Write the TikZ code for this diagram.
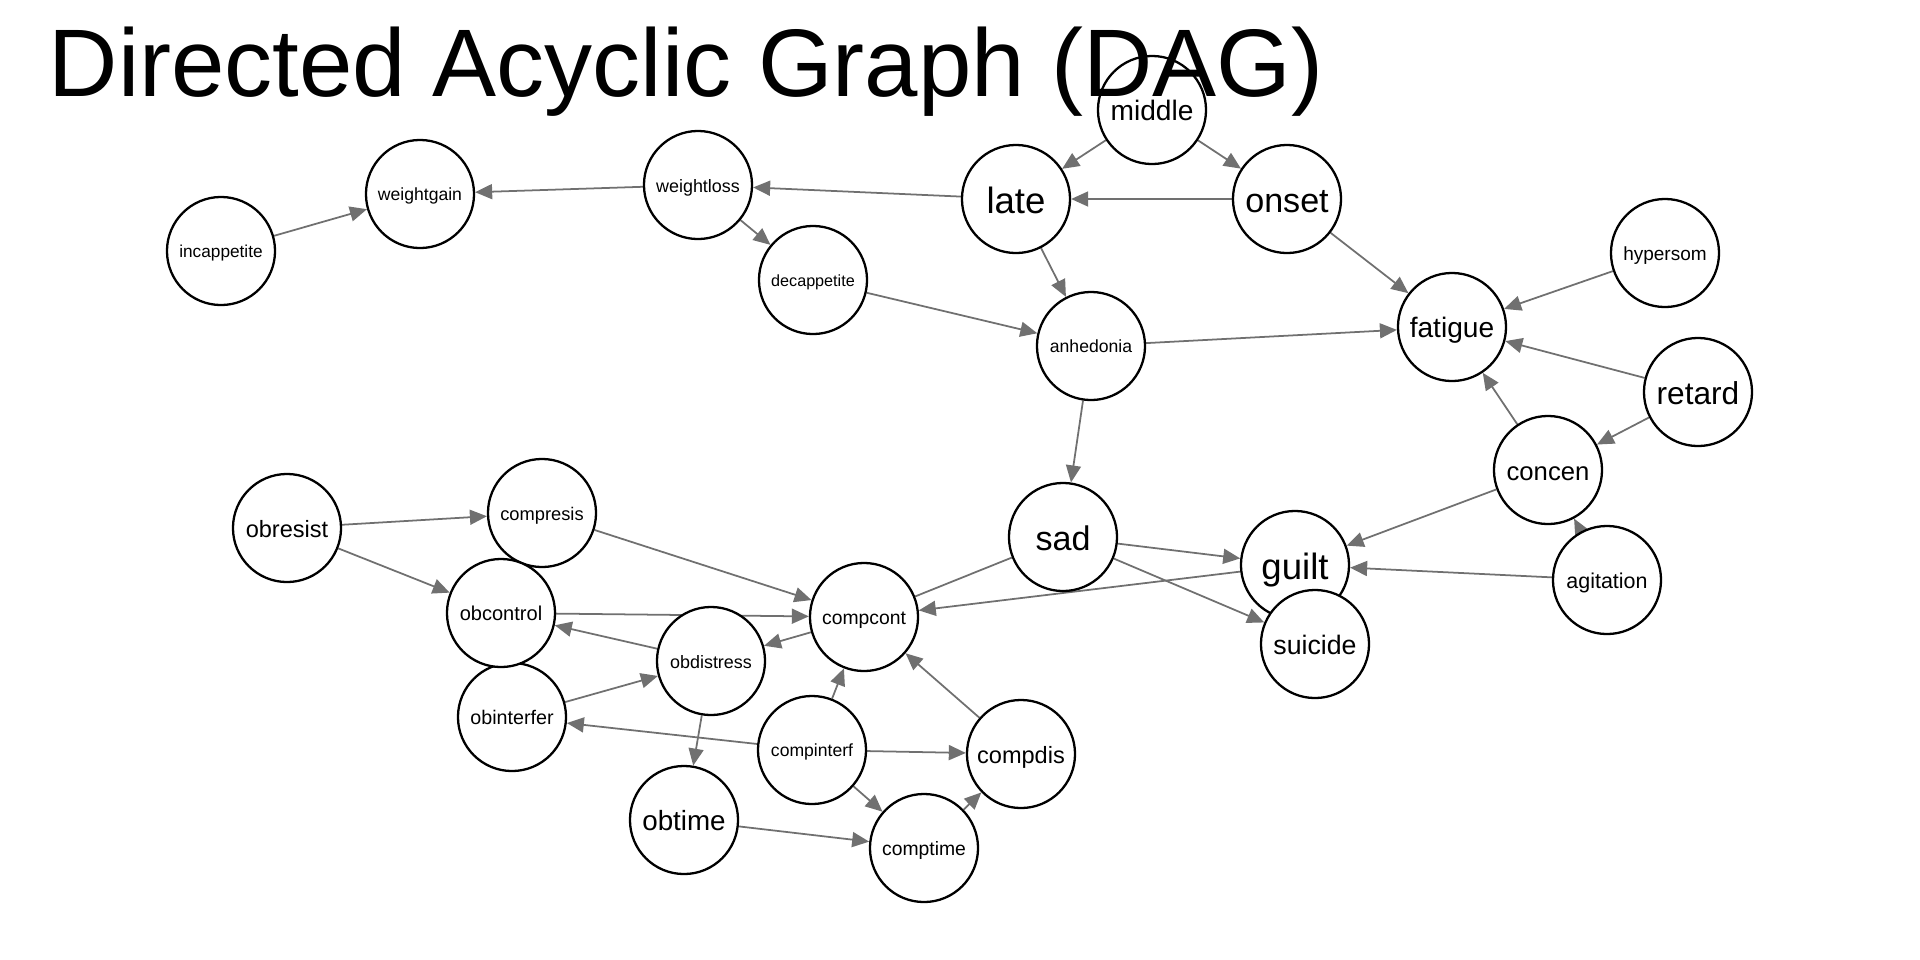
\documentclass[tikz,border=0pt]{standalone}
\usepackage{fontspec}
\setmainfont{Liberation Sans}
\usetikzlibrary{arrows.meta,backgrounds}
\definecolor{linkgray}{HTML}{707070}

\begin{document}
\begin{tikzpicture}[
    x=0.01cm,y=-0.01cm,
    >={Triangle[length=0.17cm,width=0.15cm]},
    line join=round,
    var/.style={circle,draw,fill=white,line width=0.65pt,inner sep=0pt,
        minimum size=1.08cm},
    lab/.style={font=\fontsize{#1}{#1}\selectfont,
        text height=0.78*#1pt,text depth=0pt},
    link/.style={->,draw=linkgray,line width=0.5pt}
  ]
    \useasboundingbox (0,0) rectangle (1920,960);

    % symptoms, top part
    \node [var,lab=8]    (middle)      at (1152,110) {middle};
    \node [var,lab=10.4] (late)        at (1016,199) {late};
    \node [var,lab=9.7]  (onset)       at (1287,199) {onset};
    \node [var,lab=5.1]  (weightloss)  at (698,185)  {weightloss};
    \node [var,lab=5]    (weightgain)  at (420,194)  {weightgain};
    \node [var,lab=4.9]  (incappetite) at (221,251)  {incappetite};
    \node [var,lab=4.6]  (decappetite) at (813,280)  {decappetite};
    \node [var,lab=5]    (anhedonia)   at (1091,346) {anhedonia};
    \node [var,lab=8]    (fatigue)     at (1452,327) {fatigue};
    \node [var,lab=5.4]  (hypersom)    at (1665,253) {hypersom};
    \node [var,lab=9]    (retard)      at (1698,392) {retard};
    \node [var,lab=7.3]  (concen)      at (1548,470) {concen};
    \node [var,lab=6.1]  (agitation)   at (1607,580) {agitation};
    \node [var,lab=9.7]  (sad)         at (1063,537) {sad};
    \node [var,lab=10.4] (guilt)       at (1295,565) {guilt};
    \node [var,lab=7.6]  (suicide)     at (1315,644) {suicide};

    % obsessive / compulsive part
    \node [var,lab=6.7]  (obresist)    at (287,528)  {obresist};
    \node [var,lab=5.2]  (compresis)   at (542,513)  {compresis};
    \node [var,lab=5.6]  (obinterfer)  at (512,717)  {obinterfer};
    \node [var,lab=5.7]  (obcontrol)   at (501,613)  {obcontrol};
    \node [var,lab=5.5]  (compcont)    at (864,617)  {compcont};
    \node [var,lab=5.1]  (obdistress)  at (711,661)  {obdistress};
    \node [var,lab=5]    (compinterf)  at (812,750)  {compinterf};
    \node [var,lab=6.7]  (compdis)     at (1021,754) {compdis};
    \node [var,lab=7.9]  (obtime)      at (684,820)  {obtime};
    \node [var,lab=5.5]  (comptime)    at (924,848)  {comptime};

    \begin{scope}[on background layer]
        \draw [link] (middle) -- (late);
        \draw [link] (middle) -- (onset);
        \draw [link] (onset) -- (late);
        \draw [link] (late) -- (weightloss);
        \draw [link] (late) -- (anhedonia);
        \draw [link] (onset) -- (fatigue);
        \draw [link] (weightloss) -- (weightgain);
        \draw [link] (weightloss) -- (decappetite);
        \draw [link] (incappetite) -- (weightgain);
        \draw [link] (decappetite) -- (anhedonia);
        \draw [link] (anhedonia) -- (fatigue);
        \draw [link] (anhedonia) -- (sad);
        \draw [link] (hypersom) -- (fatigue);
        \draw [link] (retard) -- (fatigue);
        \draw [link] (retard) -- (concen);
        \draw [link] (concen) -- (fatigue);
        \draw [link] (concen) -- (guilt);
        \draw [link] (agitation) -- (concen);
        \draw [link] (agitation) -- (guilt);
        \draw [link] (sad) -- (guilt);
        \draw [link] (sad) -- (suicide);
        \draw [link,-] (sad) -- (compcont);
        \draw [link] (guilt) -- (compcont);
        \draw [link] (compcont) -- (obdistress);
        \draw [link] (obcontrol) -- (compcont);
        \draw [link] (obdistress) -- (obcontrol);
        \draw [link] (obinterfer) -- (obdistress);
        \draw [link] (obdistress) -- (obtime);
        \draw [link] (compinterf) -- (compcont);
        \draw [link] (compinterf) -- (obinterfer);
        \draw [link] (compinterf) -- (compdis);
        \draw [link] (compinterf) -- (comptime);
        \draw [link] (compdis) -- (compcont);
        \draw [link] (comptime) -- (compdis);
        \draw [link] (obtime) -- (comptime);
        \draw [link] (obresist) -- (compresis);
        \draw [link] (obresist) -- (obcontrol);
        \draw [link] (compresis) -- (compcont);
    \end{scope}

    \node [anchor=base west,inner sep=0pt,font=\fontsize{27.3}{30}\selectfont]
        (title) at (48,96) {Directed Acyclic Graph (DAG)};
\end{tikzpicture}
\end{document}
